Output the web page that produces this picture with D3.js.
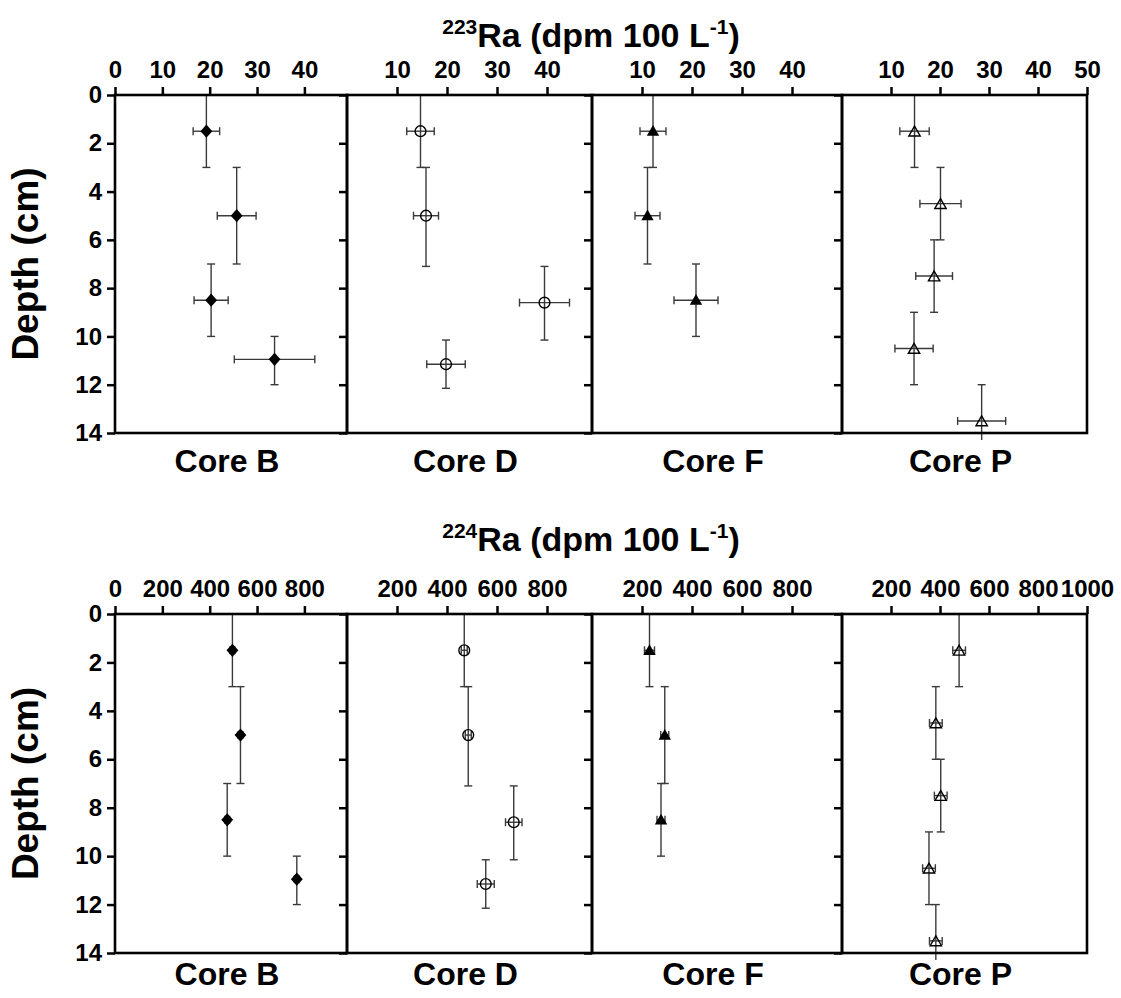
<!DOCTYPE html>
<html>
<head>
<meta charset="utf-8">
<script src="https://cdn.jsdelivr.net/npm/d3@7"></script>
<style>
  html, body { margin: 0; padding: 0; background: #fff; }
  svg { display: block; }
  text { font-family: "Liberation Sans", Arial, Helvetica, sans-serif; font-weight: bold; fill: #000; }
</style>
</head>
<body>
<svg id="chart" width="1121" height="998"></svg>
<script>
// ---- Data -------------------------------------------------------------
const cores = ["Core B", "Core D", "Core F", "Core P"];
const depthTicks = [0, 2, 4, 6, 8, 10, 12, 14];

const ra223Ticks = [[0, 10, 20, 30, 40], [10, 20, 30, 40], [10, 20, 30, 40], [10, 20, 30, 40, 50]];
const ra224Ticks = [[0, 200, 400, 600, 800], [200, 400, 600, 800], [200, 400, 600, 800], [200, 400, 600, 800, 1000]];
const ra223AxisMax = [49, 49, 50, 50];
const ra224AxisMax = [980, 980, 1000, 1000];

// Core B
const coreB_depth = [1.5, 5.0, 8.5, 10.95];
const coreB_top = [0, 3, 7, 10];
const coreB_bottom = [3, 7, 10, 12];
const coreB_ra223 = [19.3, 25.7, 20.3, 33.7];
const coreB_ra223Err = [2.8, 4.1, 3.6, 8.5];
const coreB_ra224 = [496, 530, 474, 768];
const coreB_ra224Err = [10, 10, 10, 10];

// Core D
const coreD_depth = [1.5, 5.0, 8.6, 11.15];
const coreD_top = [0, 3, 7.1, 10.15];
const coreD_bottom = [3, 7.1, 10.15, 12.15];
const coreD_ra223 = [14.7, 15.8, 39.5, 19.8];
const coreD_ra223Err = [2.75, 2.5, 5.0, 3.85];
const coreD_ra224 = [469, 485, 667, 555];
const coreD_ra224Err = [12, 12, 33, 34];

// Core F
const coreF_depth = [1.5, 5.0, 8.5];
const coreF_top = [0, 3, 7];
const coreF_bottom = [3, 7, 10];
const coreF_ra223 = [12.2, 11.1, 20.8];
const coreF_ra223Err = [2.6, 2.5, 4.4];
const coreF_ra224 = [230, 291, 276];
const coreF_ra224Err = [20, 16, 16];

// Core P
const coreP_depth = [1.5, 4.5, 7.5, 10.5, 13.5];
const coreP_top = [0, 3, 6, 9, 12];
const coreP_bottom = [3, 6, 9, 12, 15];
const coreP_ra223 = [14.8, 20.1, 18.8, 14.7, 28.5];
const coreP_ra223Err = [3.0, 4.2, 3.75, 3.9, 4.9];
const coreP_ra224 = [478, 383, 403, 355, 383];
const coreP_ra224Err = [26, 26, 26, 26, 26];

// ---- Assemble per-core records --------------------------------------
function records(depth, top, bottom, v223, e223, v224, e224) {
  return depth.map((d, i) => ({
    depth: d, top: top[i], bottom: bottom[i],
    ra223: v223[i], ra223Err: e223[i], ra224: v224[i], ra224Err: e224[i]
  }));
}
const coreRecords = [
  records(coreB_depth, coreB_top, coreB_bottom, coreB_ra223, coreB_ra223Err, coreB_ra224, coreB_ra224Err),
  records(coreD_depth, coreD_top, coreD_bottom, coreD_ra223, coreD_ra223Err, coreD_ra224, coreD_ra224Err),
  records(coreF_depth, coreF_top, coreF_bottom, coreF_ra223, coreF_ra223Err, coreF_ra224, coreF_ra224Err),
  records(coreP_depth, coreP_top, coreP_bottom, coreP_ra223, coreP_ra223Err, coreP_ra224, coreP_ra224Err)
];
const markerKinds = ["diamond", "circle", "triangleFilled", "triangleOpen"];

// ---- Layout ------------------------------------------------------------
const svg = d3.select("#chart");
const panelEdges = [115, 347, 592, 842, 1087];
const rows = [
  { key: "ra223", errKey: "ra223Err", iso: "223", yTop: 95, yBottom: 433, titleY: 47, coreY: 472,
    ticks: ra223Ticks, axisMax: ra223AxisMax },
  { key: "ra224", errKey: "ra224Err", iso: "224", yTop: 614, yBottom: 953, titleY: 551, coreY: 985,
    ticks: ra224Ticks, axisMax: ra224AxisMax }
];

const tickFont = 24;
const capHalf = 4;
const errColor = "#3a3a3a";

rows.forEach((row, r) => {
  const y = d3.scaleLinear().domain([0, 14]).range([row.yTop, row.yBottom]);

  // Row title with superscripts
  const title = svg.append("text")
    .attr("x", 591).attr("y", row.titleY)
    .attr("text-anchor", "middle")
    .style("font-size", "34px");
  title.append("tspan").style("font-size", "21px").attr("dy", -13).text(row.iso);
  title.append("tspan").attr("dy", 13).text("Ra (dpm 100 L");
  title.append("tspan").style("font-size", "21px").attr("dy", -13).text("-1");
  title.append("tspan").attr("dy", 13).text(")");

  // Depth label
  svg.append("text")
    .attr("transform", `translate(38,${(row.yTop + row.yBottom) / 2}) rotate(-90)`)
    .attr("text-anchor", "middle")
    .style("font-size", "37px")
    .text("Depth (cm)");

  cores.forEach((core, c) => {
    const x0 = panelEdges[c], x1 = panelEdges[c + 1];
    const x = d3.scaleLinear().domain([0, row.axisMax[c]]).range([x0, x1]);
    const g = svg.append("g");
    const clipId = `clip-${r}-${c}`;
    svg.append("clipPath").attr("id", clipId)
      .append("rect")
      .attr("x", x0).attr("y", row.yTop)
      .attr("width", x1 - x0).attr("height", row.yBottom - row.yTop + 7);

    const marks = g.append("g").attr("clip-path", `url(#${clipId})`);
    const data = coreRecords[c];

    // Depth-interval (vertical) error bars
    data.forEach(d => {
      const cx = x(d[row.key]);
      marks.append("line")
        .attr("x1", cx).attr("x2", cx)
        .attr("y1", y(d.top)).attr("y2", y(d.bottom))
        .attr("stroke", errColor).attr("stroke-width", 1.4);
      [d.top, d.bottom].forEach(v => {
        if (v > 0 && v < 14) {
          marks.append("line")
            .attr("x1", cx - capHalf).attr("x2", cx + capHalf)
            .attr("y1", y(v)).attr("y2", y(v))
            .attr("stroke", errColor).attr("stroke-width", 1.4);
        }
      });
      // Activity (horizontal) error bars
      const xl = x(d[row.key] - d[row.errKey]);
      const xr = x(d[row.key] + d[row.errKey]);
      const cy = y(d.depth);
      marks.append("line")
        .attr("x1", xl).attr("x2", xr).attr("y1", cy).attr("y2", cy)
        .attr("stroke", errColor).attr("stroke-width", 1.4);
      [xl, xr].forEach(xx => {
        marks.append("line")
          .attr("x1", xx).attr("x2", xx).attr("y1", cy - capHalf).attr("y2", cy + capHalf)
          .attr("stroke", errColor).attr("stroke-width", 1.4);
      });
    });

    // Markers
    const kind = markerKinds[c];
    data.forEach(d => {
      const cx = x(d[row.key]), cy = y(d.depth);
      if (kind === "diamond") {
        marks.append("path")
          .attr("d", d3.symbol(d3.symbolSquare, 70)())
          .attr("transform", `translate(${cx},${cy}) scale(1,1.12) rotate(45)`)
          .attr("fill", "#000");
      } else if (kind === "circle") {
        marks.append("circle")
          .attr("cx", cx).attr("cy", cy).attr("r", 5.4)
          .attr("fill", "none").attr("stroke", "#000").attr("stroke-width", 1.4);
      } else if (kind === "triangleFilled") {
        marks.append("path")
          .attr("d", d3.symbol(d3.symbolTriangle, 66)())
          .attr("transform", `translate(${cx},${cy + 1})`)
          .attr("fill", "#000");
      } else {
        marks.append("path")
          .attr("d", d3.symbol(d3.symbolTriangle, 56)())
          .attr("transform", `translate(${cx},${cy + 1.5})`)
          .attr("fill", "none").attr("stroke", "#000").attr("stroke-width", 1.4);
      }
    });

    // Top activity axis
    const xAxis = d3.axisTop(x).tickValues(row.ticks[c]).tickSize(8).tickPadding(9)
      .tickFormat(d3.format("d"));
    const ax = g.append("g").attr("transform", `translate(0,${row.yTop})`).call(xAxis);
    ax.select(".domain").remove();
    ax.selectAll(".tick line").attr("stroke", "#000").attr("stroke-width", 2.5);
    ax.selectAll(".tick text").style("font-size", tickFont + "px")
      .style("font-family", "Liberation Sans, Arial, sans-serif").style("font-weight", "bold");

    // Depth axis on each panel's left edge
    const yAxis = d3.axisLeft(y).tickValues(depthTicks).tickSize(8).tickPadding(5)
      .tickFormat(c === 0 ? d3.format("d") : () => "");
    const ay = g.append("g").attr("transform", `translate(${x0},0)`).call(yAxis);
    ay.select(".domain").remove();
    ay.selectAll(".tick line").attr("stroke", "#000").attr("stroke-width", 2.5);
    ay.selectAll(".tick text").style("font-size", tickFont + "px")
      .style("font-family", "Liberation Sans, Arial, sans-serif").style("font-weight", "bold");

    // Panel frame
    g.append("rect")
      .attr("x", x0).attr("y", row.yTop)
      .attr("width", x1 - x0).attr("height", row.yBottom - row.yTop)
      .attr("fill", "none").attr("stroke", "#000").attr("stroke-width", 2.6);

    // Core name
    svg.append("text")
      .attr("x", (x0 + x1) / 2 - 4).attr("y", row.coreY)
      .attr("text-anchor", "middle")
      .style("font-size", "32px")
      .text(core);
  });
});
</script>
</body>
</html>
